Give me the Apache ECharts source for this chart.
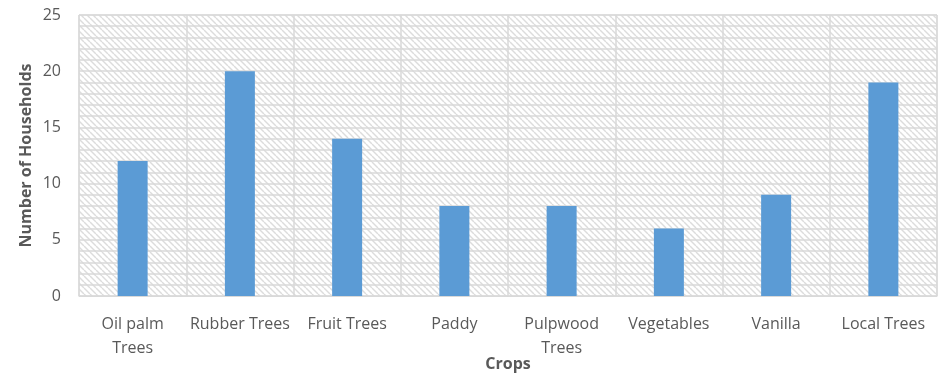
<!DOCTYPE html>
<html>
<head>
<meta charset="utf-8">
<script src="https://cdn.jsdelivr.net/npm/echarts@6/dist/echarts.min.js"></script>
<style>
html,body{margin:0;padding:0;background:#fff;}
#chart{width:940px;height:375px;}
</style>
</head>
<body>
<div id="chart"></div>
<script>
// Crops grown and the number of households growing each
const crops = ['Oil palm\nTrees', 'Rubber Trees', 'Fruit Trees', 'Paddy', 'Pulpwood\nTrees', 'Vegetables', 'Vanilla', 'Local Trees'];
const households = [12, 20, 14, 8, 8, 6, 9, 19];
const yTickLabels = [0, 5, 10, 15, 20, 25];

// Diagonal hatch fill for the plot area
function hatchPattern() {
  const c = document.createElement('canvas');
  const s = 6;
  c.width = s; c.height = s;
  const ctx = c.getContext('2d');
  ctx.fillStyle = '#ffffff';
  ctx.fillRect(0, 0, s, s);
  ctx.strokeStyle = '#dcdcdc';
  ctx.lineWidth = 1.4;
  for (let k = -1; k <= 1; k++) {
    ctx.beginPath();
    ctx.moveTo(k * s, 0);
    ctx.lineTo(k * s + s, s);
    ctx.stroke();
  }
  return c;
}

const textColor = '#595959';
const font = '"Open Sans", "Liberation Sans", sans-serif';

const chart = echarts.init(document.getElementById('chart'));
chart.setOption({
  animation: false,
  grid: {
    left: 79, right: 3, top: 15, bottom: 79,
    outerBoundsMode: 'none',
    containLabel: false,
    show: true,
    backgroundColor: { image: hatchPattern(), repeat: 'repeat' },
    borderColor: '#d9d9d9',
    borderWidth: 1
  },
  xAxis: {
    type: 'category',
    data: crops,
    name: 'Crops',
    nameLocation: 'middle',
    nameGap: 60,
    nameMoveOverlap: false,
    nameTextStyle: { color: textColor, fontFamily: font, fontSize: 16, fontWeight: 'bold' },
    axisLine: { show: true, lineStyle: { color: '#d9d9d9', width: 1 } },
    axisTick: { show: false },
    axisLabel: { color: textColor, fontFamily: font, fontSize: 16, margin: 16, lineHeight: 24, interval: 0 },
    splitLine: { show: true, lineStyle: { color: '#d9d9d9', width: 1.5 } }
  },
  yAxis: {
    type: 'value',
    min: 0, max: 25, interval: 1,
    name: 'Number of Households',
    nameLocation: 'middle',
    nameGap: 45,
    nameMoveOverlap: false,
    nameTextStyle: { color: textColor, fontFamily: font, fontSize: 16, fontWeight: 'bold' },
    axisLine: { show: false },
    axisTick: { show: false },
    axisLabel: {
      color: textColor, fontFamily: font, fontSize: 16, margin: 18,
      formatter: v => (yTickLabels.indexOf(v) >= 0 ? String(v) : '')
    },
    splitLine: { show: true, lineStyle: { color: '#d9d9d9', width: 1.5 } }
  },
  series: [{
    type: 'bar',
    data: households,
    barWidth: 30,
    itemStyle: { color: '#5b9bd5' }
  }]
});
</script>
</body>
</html>
